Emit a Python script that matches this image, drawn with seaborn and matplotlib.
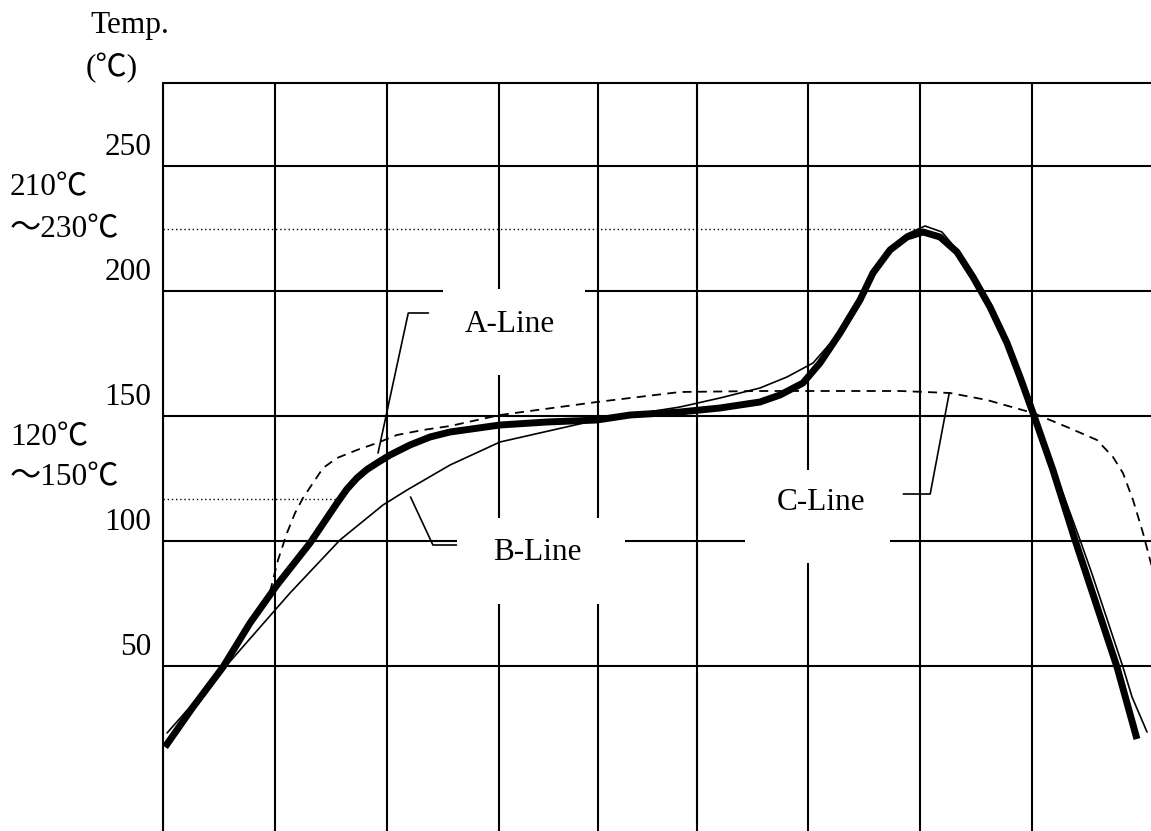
import pandas as pd
import matplotlib
matplotlib.use("Agg")
import matplotlib.pyplot as plt
import matplotlib.transforms as mtransforms
from matplotlib.patches import Rectangle
import seaborn as sns

# A-Line (thick solid)
a_time = [0.018, 0.268, 0.536, 0.777, 1.018, 1.313, 1.554, 1.643, 1.732, 1.821, 1.911, 2.027, 2.205,
          2.384, 2.563, 3.009, 3.429, 3.875, 4.170, 4.616, 4.973, 5.330, 5.509, 5.714, 5.866, 6.045,
          6.223, 6.339, 6.491, 6.643, 6.786, 6.938, 7.089, 7.232, 7.384, 7.536, 7.652, 7.768, 7.946,
          8.143, 8.518, 8.696]
a_temp = [17.6, 33.6, 49.6, 67.2, 82.4, 99.2, 115.2, 120.8, 125.2, 128.6, 131.2, 134.4, 138.4,
          141.6, 143.6, 146.4, 147.6, 148.4, 150.4, 151.6, 153.2, 155.6, 158.4, 163.2, 171.2, 183.2,
          196.4, 207.2, 216.4, 221.6, 223.6, 221.6, 215.6, 205.6, 193.6, 179.2, 165.6, 151.2, 128.4,
          100.4, 49.6, 20.8]

# B-Line (thin solid)
b_time = [0.036, 0.571, 1.134, 1.580, 1.964, 2.179, 2.563, 3.009, 3.875, 4.616, 4.973, 5.330, 5.571,
          5.804, 6.045, 6.223, 6.339, 6.491, 6.643, 6.804, 6.955, 7.089, 7.232, 7.384, 7.536, 7.652,
          7.768, 7.991, 8.188, 8.295, 8.571, 8.652, 8.786]
b_temp = [23.2, 50.4, 79.2, 100.4, 114.4, 120.4, 130.4, 139.6, 148.4, 153.6, 157.2, 161.2, 165.6,
          171.2, 183.6, 196.8, 207.6, 217.2, 222.8, 226.0, 223.6, 216.4, 206.0, 194.0, 179.6, 165.6,
          151.2, 124.4, 100.4, 86.8, 49.6, 37.6, 23.6]

# C-Line (dashed)
c_time = [0.955, 1.027, 1.107, 1.179, 1.250, 1.339, 1.429, 1.554, 1.732, 1.911, 2.089, 2.321, 2.563,
          3.009, 3.875, 4.616, 5.330, 6.580, 7.027, 7.357, 7.768, 8.071, 8.339, 8.482, 8.571, 8.661,
          8.750, 8.813, 8.839]
c_temp = [79.6, 92.4, 103.2, 111.2, 117.2, 123.2, 129.2, 133.2, 136.4, 139.2, 142.4, 144.4, 146.0,
          150.4, 155.6, 159.6, 160.0, 160.0, 159.2, 156.4, 151.2, 145.6, 140.4, 133.6, 127.2, 116.4,
          103.2, 92.4, 88.4]

x_grid = [0, 1, 2, 3, 3.88, 4.77, 5.76, 6.76, 7.76]
y_ticks = [50, 100, 150, 200, 250]

sns.set_theme(style="white")
plt.rcParams['font.family'] = ['Liberation Serif', 'Noto Sans CJK JP', 'DejaVu Sans']
plt.rcParams['text.color'] = 'black'
FS = 22.5

fig = plt.figure(figsize=(11.51, 8.31), dpi=100)
ax = fig.add_axes([163 / 1151, 0, 988 / 1151, 748 / 831])
ax.set_xlim(0, 988 / 112)
ax.set_ylim(-16, 283.2)

# grid
for xv in x_grid:
    ax.axvline(xv, color="black", lw=1.5, zorder=1)
for yv in y_ticks:
    ax.axhline(yv, color="black", lw=1.5, zorder=1)

# white label boxes interrupting the grid
for (x0, x1, y0, y1) in [(2.50, 3.77, 166.4, 201.0), (2.625, 4.125, 74.8, 109.2), (5.20, 6.49, 91.2, 128.4)]:
    ax.add_patch(Rectangle((x0, y0), x1 - x0, y1 - y0, facecolor="white", edgecolor="none", zorder=2))

# dotted reference lines
ax.plot([0, 6.76], [225, 225], color="black", lw=1.0, ls=(0, (1, 2)), zorder=2)
ax.plot([0, 1.56], [117, 117], color="black", lw=1.0, ls=(0, (1, 2)), zorder=2)

df_a = pd.DataFrame({"time": a_time, "temp": a_temp})
df_b = pd.DataFrame({"time": b_time, "temp": b_temp})
df_c = pd.DataFrame({"time": c_time, "temp": c_temp})

sns.lineplot(data=df_c, x="time", y="temp", ax=ax, color="black", lw=1.3, sort=False,
             estimator=None, zorder=3).lines[-1].set_dashes((5, 3.5))
sns.lineplot(data=df_b, x="time", y="temp", ax=ax, color="black", lw=1.2, sort=False,
             estimator=None, zorder=3)
sns.lineplot(data=df_a, x="time", y="temp", ax=ax, color="black", lw=5, sort=False,
             estimator=None, zorder=4, solid_capstyle="butt", solid_joinstyle="round")

# leader lines
ax.plot([2.37, 2.19, 1.92], [191.2, 191.2, 135.2], color="black", lw=1.2, zorder=3)
ax.plot([2.21, 2.41, 2.62], [117.6, 98.4, 98.4], color="black", lw=1.2, zorder=3)
ax.plot([7.02, 6.85, 6.61], [159.2, 118.8, 118.8], color="black", lw=1.2, zorder=3)

ax.text(3.10, 186.4, "A-Line", fontsize=FS, ha="center", va="center", zorder=5)
ax.text(3.34, 95.2, "B-Line", fontsize=FS, ha="center", va="center", zorder=5)
ax.text(5.88, 115.2, "C-Line", fontsize=FS, ha="center", va="center", zorder=5)

# y labels sit above their grid lines
trans = mtransforms.blended_transform_factory(ax.transAxes, ax.transData)
for v in y_ticks:
    ax.text(-0.012, v + 7.4, str(v), transform=trans, fontsize=FS, ha="right", va="center")

ax.set_xticks([])
ax.set_yticks([])
ax.set_xlabel("")
ax.set_ylabel("")
for side in ["right", "bottom"]:
    ax.spines[side].set_visible(False)
for side in ["top", "left"]:
    ax.spines[side].set_color("black")
    ax.spines[side].set_linewidth(1.5)

fig.text(90 / 1151, 1 - 25 / 831, "Temp.", fontsize=FS, ha="left", va="center")
fig.text(86 / 1151, 1 - 68 / 831, "(℃)", fontsize=FS, ha="left", va="center")
fig.text(10 / 1151, 1 - 188 / 831, "210℃", fontsize=FS, ha="left", va="center")
fig.text(10 / 1151, 1 - 230 / 831, "～230℃", fontsize=FS, ha="left", va="center")
fig.text(10 / 1151, 1 - 438 / 831, "120℃", fontsize=FS, ha="left", va="center")
fig.text(10 / 1151, 1 - 478 / 831, "～150℃", fontsize=FS, ha="left", va="center")

fig.savefig("out.png", dpi=100)
